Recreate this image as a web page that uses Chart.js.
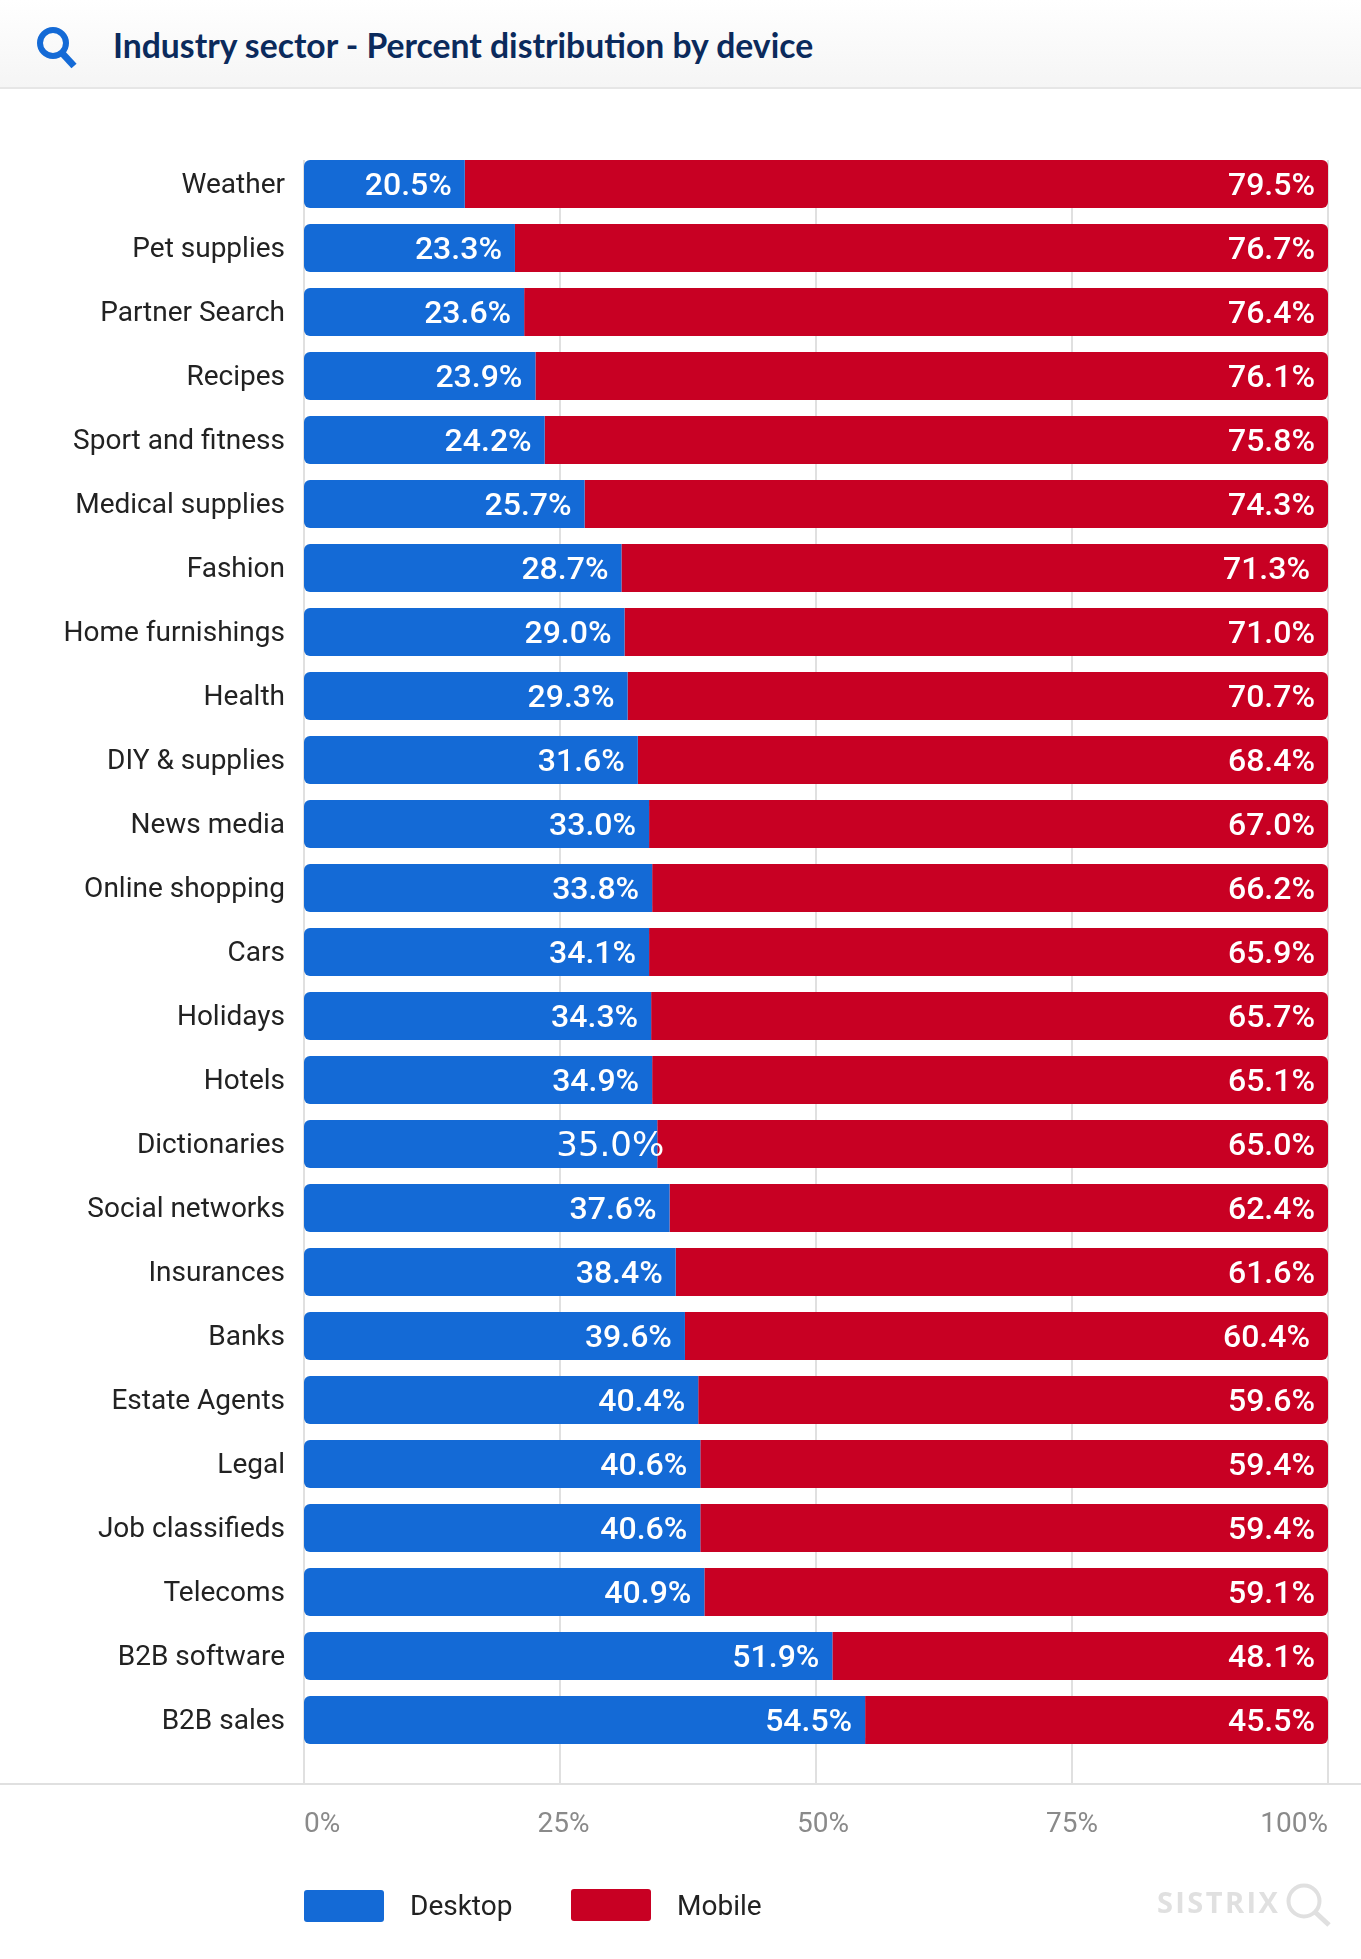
<!DOCTYPE html>
<html lang="en">
<head>
    <meta charset="UTF-8">
    <title>Industry sector - Percent distribution by device</title>
    <script src="https://cdnjs.cloudflare.com/ajax/libs/Chart.js/4.4.1/chart.umd.min.js"></script>
    <style>
        html, body { margin: 0; padding: 0; background: #fff; }
        #page { position: relative; width: 1361px; height: 1959px; overflow: hidden; }
        #chart { position: absolute; left: 0; top: 0; }
        #header {
            position: absolute; left: 0; top: 0; width: 1361px; height: 87px;
            background: linear-gradient(#ffffff, #f5f5f5);
            border-bottom: 2px solid #e6e6e6;
        }
        #header svg { position: absolute; left: 36px; top: 26px; }
        #title {
            position: absolute; left: 113px; top: 25px;
            font: 700 33.7px Lato, sans-serif; color: #0b2a5c; white-space: nowrap;
        }
        #legend { position: absolute; left: 0; top: 0; font: 400 28px Roboto, sans-serif; color: #222; }
        .swatch { position: absolute; width: 80px; height: 32px; border-radius: 3px; }
        .swatch-label { position: absolute; white-space: nowrap; line-height: 32px; margin-left: -1px; }
        #brand { position: absolute; left: 1157px; top: 1882px; font: 700 29px "Open Sans", sans-serif; color: #e0e0e0; letter-spacing: 2.4px; }
        #brand-icon { position: absolute; left: 1284px; top: 1880px; }
    </style>
</head>
<body>
<div id="page">
    <canvas id="chart" width="1361" height="1959"></canvas>
    <div id="header">
        <svg width="44" height="44" viewBox="0 0 44 44">
            <circle cx="17" cy="17" r="13" fill="none" stroke="#146ad6" stroke-width="6"/>
            <line x1="26" y1="27" x2="38" y2="40" stroke="#146ad6" stroke-width="7"/>
        </svg>
        <div id="title">Industry sector - Percent distribution by device</div>
    </div>
    <div id="legend"></div>
    <div id="brand">SISTRIX</div>
    <svg id="brand-icon" width="50" height="50" viewBox="0 0 50 50">
        <circle cx="20" cy="21" r="15.5" fill="none" stroke="#e0e0e0" stroke-width="4"/>
        <line x1="31" y1="32" x2="45" y2="45" stroke="#e0e0e0" stroke-width="5"/>
    </svg>
</div>

<script>
    const categories = ['Weather', 'Pet supplies', 'Partner Search', 'Recipes', 'Sport and fitness',
        'Medical supplies', 'Fashion', 'Home furnishings', 'Health', 'DIY & supplies', 'News media',
        'Online shopping', 'Cars', 'Holidays', 'Hotels', 'Dictionaries', 'Social networks', 'Insurances',
        'Banks', 'Estate Agents', 'Legal', 'Job classifieds', 'Telecoms', 'B2B software', 'B2B sales'];

    // bar lengths as drawn in the picture, they do not follow the printed numbers
    const desktopBars = [15.7, 20.6, 21.5, 22.6, 23.5, 27.4, 31.0, 31.3, 31.6, 32.6, 33.7, 34.0, 33.7,
        33.9, 34.0, 34.5, 35.7, 36.3, 37.2, 38.5, 38.7, 38.7, 39.1, 51.6, 54.8];
    const mobileBars = [84.3, 79.4, 78.5, 77.4, 76.5, 72.6, 69.0, 68.7, 68.4, 67.4, 66.3, 66.0, 66.3,
        66.1, 66.0, 65.5, 64.3, 63.7, 62.8, 61.5, 61.3, 61.3, 60.9, 48.4, 45.2];

    // printed numbers
    const desktopLabels = ['20.5%', '23.3%', '23.6%', '23.9%', '24.2%', '25.7%', '28.7%', '29.0%', '29.3%',
        '31.6%', '33.0%', '33.8%', '34.1%', '34.3%', '34.9%', '35.0%', '37.6%', '38.4%', '39.6%', '40.4%',
        '40.6%', '40.6%', '40.9%', '51.9%', '54.5%'];
    const mobileLabels = ['79.5%', '76.7%', '76.4%', '76.1%', '75.8%', '74.3%', '71.3%', '71.0%', '70.7%',
        '68.4%', '67.0%', '66.2%', '65.9%', '65.7%', '65.1%', '65.0%', '62.4%', '61.6%', '60.4%', '59.6%',
        '59.4%', '59.4%', '59.1%', '48.1%', '45.5%'];

    const seriesNames = ['Desktop', 'Mobile'];
    const seriesColors = ['#146ad6', '#c80023'];

    const barLabels = {
        id: 'barLabels',
        afterDatasetsDraw(chart) {
            const ctx = chart.ctx;
            ctx.save();
            ctx.fillStyle = '#fff';
            ctx.textAlign = 'right';
            ctx.textBaseline = 'middle';
            [desktopLabels, mobileLabels].forEach((labels, d) => {
                chart.getDatasetMeta(d).data.forEach((bar, i) => {
                    let shift = 0;
                    ctx.font = '500 32px Roboto, sans-serif';
                    // this one label falls back to another font in the original
                    if (d === 0 && labels[i] === '35.0%') {
                        ctx.font = '400 34px "DejaVu Sans", sans-serif';
                        shift = 20;
                    }
                    if (d === 1 && (labels[i] === '71.3%' || labels[i] === '60.4%')) shift = -5;
                    ctx.fillText(labels[i], bar.x - 13 + shift, bar.y + 3);
                });
            });
            ctx.restore();
        }
    };

    const gridLines = {
        id: 'gridLines',
        beforeDatasetsDraw(chart) {
            const { ctx, chartArea, scales } = chart;
            ctx.save();
            ctx.strokeStyle = '#e0e0e0';
            ctx.lineWidth = 2;
            ctx.beginPath();
            scales.x.ticks.forEach(t => {
                const x = scales.x.getPixelForValue(t.value);
                ctx.moveTo(x, chartArea.top + 8);
                ctx.lineTo(x, chartArea.bottom + 32);
            });
            ctx.moveTo(0, chartArea.bottom + 32);
            ctx.lineTo(chart.width, chartArea.bottom + 32);
            ctx.stroke();
            ctx.restore();
        }
    };

    new Chart(document.getElementById('chart'), {
        type: 'bar',
        data: {
            labels: categories,
            datasets: [
                {
                    label: seriesNames[0],
                    data: desktopBars,
                    backgroundColor: seriesColors[0],
                    borderSkipped: false,
                    borderRadius: { topLeft: 6, bottomLeft: 6, topRight: 0, bottomRight: 0 }
                },
                {
                    label: seriesNames[1],
                    data: mobileBars,
                    backgroundColor: seriesColors[1],
                    borderSkipped: false,
                    borderRadius: { topLeft: 0, bottomLeft: 0, topRight: 6, bottomRight: 6 }
                }
            ]
        },
        options: {
            indexAxis: 'y',
            responsive: false,
            devicePixelRatio: 1,
            animation: false,
            barPercentage: 0.75,
            categoryPercentage: 1,
            layout: { padding: { top: 152, right: 33, left: 0, bottom: 0 } },
            plugins: {
                legend: { display: false },
                tooltip: { enabled: false }
            },
            scales: {
                x: {
                    stacked: true,
                    min: 0,
                    max: 100,
                    grid: { display: false },
                    border: { display: false },
                    afterFit: s => { s.height = 207; s.paddingLeft = 0; s.paddingRight = 0; },
                    ticks: {
                        stepSize: 25,
                        align: 'inner',
                        padding: 48,
                        maxRotation: 0,
                        color: '#8a8a8a',
                        font: { family: 'Roboto', size: 28 },
                        // the middle labels sit a bit right of their grid lines
                        callback: v => (v === 25 ? ' ' : v === 50 ? '  ' : '') + v + '%'
                    }
                },
                y: {
                    stacked: true,
                    grid: { display: false, drawTicks: false },
                    border: { display: false },
                    afterFit: s => { s.width = 304; },
                    ticks: {
                        autoSkip: false,
                        padding: 19,
                        labelOffset: 2,
                        color: '#222',
                        font: { family: 'Roboto', size: 28 }
                    }
                }
            }
        },
        plugins: [gridLines, barLabels]
    });

    const legendBoxes = [{ box: 304, text: 411, top: 1890 }, { box: 571, text: 678, top: 1889 }];
    const legend = document.getElementById('legend');
    seriesNames.forEach((name, i) => {
        const swatch = document.createElement('div');
        swatch.className = 'swatch';
        swatch.style.cssText = `left:${legendBoxes[i].box}px;top:${legendBoxes[i].top}px;background:${seriesColors[i]}`;
        const label = document.createElement('div');
        label.className = 'swatch-label';
        label.style.cssText = `left:${legendBoxes[i].text}px;top:1890px`;
        label.textContent = name;
        legend.append(swatch, label);
    });
</script>
</body>
</html>
